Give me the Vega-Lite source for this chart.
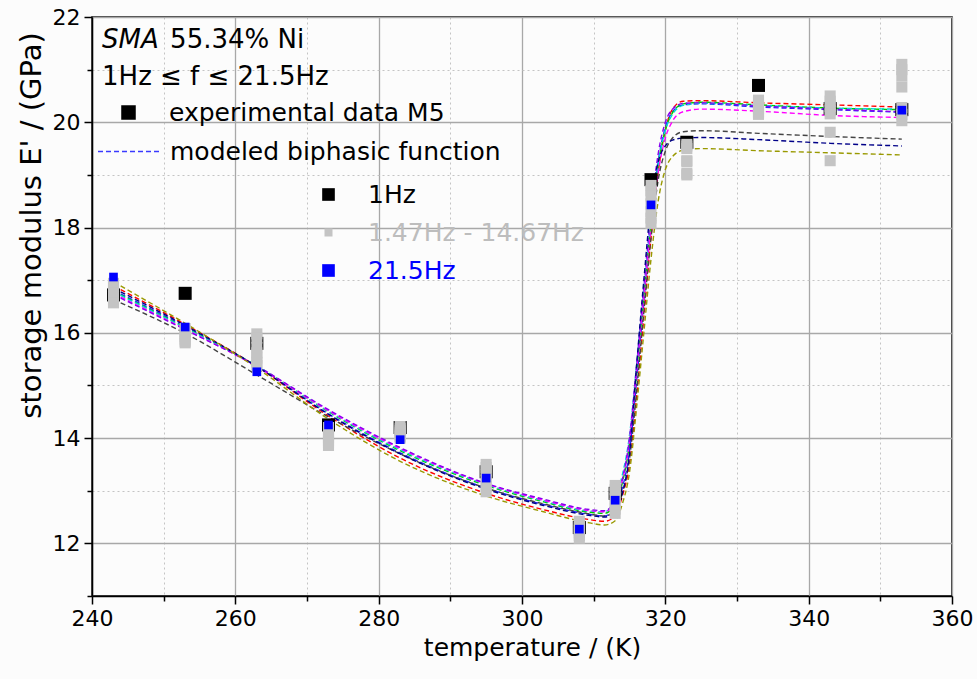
{
 "$schema": "https://vega.github.io/schema/vega-lite/v6.json",
 "width": 860, "height": 579,
 "autosize": {"type": "none"},
 "padding": {"left": 92, "top": 17, "right": 25, "bottom": 83},
 "background": "#fcfcfc",
 "config": {
  "font": "DejaVu Sans",
  "view": {"stroke": "#000", "strokeWidth": 1.5},
  "axis": {"labelFont": "DejaVu Sans", "titleFont": "DejaVu Sans", "labelColor": "#000", "titleColor": "#000", "titleFontWeight": "normal", "domainColor": "#000", "tickColor": "#000", "labelFlush": false, "labelOverlap": false},
  "legend": {"labelFont": "DejaVu Sans", "labelFontSize": 25, "labelLimit": 600, "orient": "none", "padding": 0}
 },
 "datasets": {
  "curves": [
   {"f":"B","T":244,"E":16.74},{"f":"B","T":253,"E":16.12},{"f":"B","T":263,"E":15.36},{"f":"B","T":273,"E":14.46},{"f":"B","T":283,"E":13.72},{"f":"B","T":295,"E":13.05},{"f":"B","T":303,"E":12.74},{"f":"B","T":309,"E":12.56},{"f":"B","T":311.5,"E":12.52},{"f":"B","T":313,"E":12.68},{"f":"B","T":314,"E":13.05},{"f":"B","T":315,"E":13.75},{"f":"B","T":316,"E":15.1},{"f":"B","T":317,"E":16.6},{"f":"B","T":318,"E":18.1},{"f":"B","T":319,"E":19.25},{"f":"B","T":320,"E":19.9},{"f":"B","T":321,"E":20.2},{"f":"B","T":322.5,"E":20.33},{"f":"B","T":325,"E":20.35},{"f":"B","T":333,"E":20.29},{"f":"B","T":343,"E":20.24},{"f":"B","T":353,"E":20.19},
   {"f":"R","T":244,"E":16.82},{"f":"R","T":253,"E":16.16},{"f":"R","T":263,"E":15.36},{"f":"R","T":273,"E":14.42},{"f":"R","T":283,"E":13.62},{"f":"R","T":295,"E":12.95},{"f":"R","T":303,"E":12.64},{"f":"R","T":309,"E":12.46},{"f":"R","T":311.5,"E":12.42},{"f":"R","T":313,"E":12.52},{"f":"R","T":314,"E":12.9},{"f":"R","T":315,"E":13.5},{"f":"R","T":316,"E":14.8},{"f":"R","T":317,"E":16.3},{"f":"R","T":318,"E":17.8},{"f":"R","T":319,"E":19.05},{"f":"R","T":320,"E":19.85},{"f":"R","T":321,"E":20.25},{"f":"R","T":322.5,"E":20.4},{"f":"R","T":325,"E":20.41},{"f":"R","T":333,"E":20.37},{"f":"R","T":343,"E":20.33},{"f":"R","T":353,"E":20.29},
   {"f":"G","T":244,"E":16.72},{"f":"G","T":253,"E":16.1},{"f":"G","T":263,"E":15.37},{"f":"G","T":273,"E":14.5},{"f":"G","T":283,"E":13.76},{"f":"G","T":295,"E":13.1},{"f":"G","T":303,"E":12.79},{"f":"G","T":309,"E":12.6},{"f":"G","T":311.5,"E":12.57},{"f":"G","T":313,"E":12.75},{"f":"G","T":314,"E":13.15},{"f":"G","T":315,"E":13.9},{"f":"G","T":316,"E":15.25},{"f":"G","T":317,"E":16.7},{"f":"G","T":318,"E":18.1},{"f":"G","T":319,"E":19.2},{"f":"G","T":320,"E":19.85},{"f":"G","T":321,"E":20.18},{"f":"G","T":322.5,"E":20.35},{"f":"G","T":325,"E":20.38},{"f":"G","T":333,"E":20.33},{"f":"G","T":343,"E":20.27},{"f":"G","T":353,"E":20.24},
   {"f":"C","T":244,"E":16.71},{"f":"C","T":253,"E":16.09},{"f":"C","T":263,"E":15.37},{"f":"C","T":273,"E":14.51},{"f":"C","T":283,"E":13.78},{"f":"C","T":295,"E":13.12},{"f":"C","T":303,"E":12.81},{"f":"C","T":309,"E":12.62},{"f":"C","T":311.5,"E":12.6},{"f":"C","T":313,"E":12.85},{"f":"C","T":314,"E":13.3},{"f":"C","T":315,"E":14.05},{"f":"C","T":316,"E":15.4},{"f":"C","T":317,"E":16.8},{"f":"C","T":318,"E":18.15},{"f":"C","T":319,"E":19.2},{"f":"C","T":320,"E":19.85},{"f":"C","T":321,"E":20.15},{"f":"C","T":322.5,"E":20.32},{"f":"C","T":325,"E":20.36},{"f":"C","T":333,"E":20.32},{"f":"C","T":343,"E":20.27},{"f":"C","T":353,"E":20.25},
   {"f":"M","T":244,"E":16.68},{"f":"M","T":253,"E":16.07},{"f":"M","T":263,"E":15.36},{"f":"M","T":273,"E":14.52},{"f":"M","T":283,"E":13.8},{"f":"M","T":295,"E":13.13},{"f":"M","T":303,"E":12.82},{"f":"M","T":309,"E":12.63},{"f":"M","T":311.5,"E":12.6},{"f":"M","T":313,"E":12.8},{"f":"M","T":314,"E":13.2},{"f":"M","T":315,"E":13.95},{"f":"M","T":316,"E":15.3},{"f":"M","T":317,"E":16.7},{"f":"M","T":318,"E":18.0},{"f":"M","T":319,"E":19.05},{"f":"M","T":320,"E":19.7},{"f":"M","T":321,"E":20.02},{"f":"M","T":322.5,"E":20.2},{"f":"M","T":325,"E":20.25},{"f":"M","T":333,"E":20.21},{"f":"M","T":343,"E":20.13},{"f":"M","T":353,"E":20.09},
   {"f":"P","T":244,"E":16.66},{"f":"P","T":253,"E":16.06},{"f":"P","T":263,"E":15.37},{"f":"P","T":273,"E":14.54},{"f":"P","T":283,"E":13.82},{"f":"P","T":295,"E":13.14},{"f":"P","T":303,"E":12.84},{"f":"P","T":309,"E":12.65},{"f":"P","T":311.5,"E":12.62},{"f":"P","T":313,"E":12.82},{"f":"P","T":314,"E":13.22},{"f":"P","T":315,"E":14.0},{"f":"P","T":316,"E":15.4},{"f":"P","T":317,"E":16.9},{"f":"P","T":318,"E":18.3},{"f":"P","T":319,"E":19.4},{"f":"P","T":320,"E":20.0},{"f":"P","T":321,"E":20.25},{"f":"P","T":322.5,"E":20.36},{"f":"P","T":325,"E":20.37},{"f":"P","T":333,"E":20.31},{"f":"P","T":343,"E":20.25},{"f":"P","T":353,"E":20.2},
   {"f":"K","T":244,"E":16.57},{"f":"K","T":253,"E":15.99},{"f":"K","T":263,"E":15.2},{"f":"K","T":273,"E":14.4},{"f":"K","T":283,"E":13.7},{"f":"K","T":295,"E":13.05},{"f":"K","T":303,"E":12.75},{"f":"K","T":309,"E":12.57},{"f":"K","T":311.5,"E":12.52},{"f":"K","T":313,"E":12.62},{"f":"K","T":314,"E":12.95},{"f":"K","T":315,"E":13.6},{"f":"K","T":316,"E":14.9},{"f":"K","T":317,"E":16.4},{"f":"K","T":318,"E":17.8},{"f":"K","T":319,"E":18.9},{"f":"K","T":320,"E":19.45},{"f":"K","T":321,"E":19.7},{"f":"K","T":322.5,"E":19.82},{"f":"K","T":325,"E":19.84},{"f":"K","T":333,"E":19.79},{"f":"K","T":343,"E":19.73},{"f":"K","T":353,"E":19.68},
   {"f":"N","T":244,"E":16.78},{"f":"N","T":253,"E":16.14},{"f":"N","T":263,"E":15.36},{"f":"N","T":273,"E":14.45},{"f":"N","T":283,"E":13.7},{"f":"N","T":295,"E":13.03},{"f":"N","T":303,"E":12.72},{"f":"N","T":309,"E":12.54},{"f":"N","T":311.5,"E":12.5},{"f":"N","T":313,"E":12.6},{"f":"N","T":314,"E":12.95},{"f":"N","T":315,"E":13.7},{"f":"N","T":316,"E":15.4},{"f":"N","T":317,"E":17.0},{"f":"N","T":318,"E":18.45},{"f":"N","T":319,"E":19.25},{"f":"N","T":320,"E":19.55},{"f":"N","T":321,"E":19.66},{"f":"N","T":322.5,"E":19.7},{"f":"N","T":325,"E":19.71},{"f":"N","T":333,"E":19.67},{"f":"N","T":343,"E":19.6},{"f":"N","T":353,"E":19.55},
   {"f":"O","T":244,"E":16.89},{"f":"O","T":253,"E":16.18},{"f":"O","T":263,"E":15.33},{"f":"O","T":273,"E":14.36},{"f":"O","T":283,"E":13.56},{"f":"O","T":295,"E":12.9},{"f":"O","T":303,"E":12.6},{"f":"O","T":309,"E":12.4},{"f":"O","T":311.5,"E":12.35},{"f":"O","T":313,"E":12.43},{"f":"O","T":314,"E":12.75},{"f":"O","T":315,"E":13.35},{"f":"O","T":316,"E":14.6},{"f":"O","T":317,"E":16.0},{"f":"O","T":318,"E":17.4},{"f":"O","T":319,"E":18.5},{"f":"O","T":320,"E":19.1},{"f":"O","T":321,"E":19.35},{"f":"O","T":322.5,"E":19.47},{"f":"O","T":325,"E":19.5},{"f":"O","T":333,"E":19.46},{"f":"O","T":343,"E":19.42},{"f":"O","T":353,"E":19.38}
  ],
  "points": [
   {"s":"1Hz","T":243,"E":16.72},{"s":"1Hz","T":253,"E":16.75},{"s":"1Hz","T":263,"E":15.8},{"s":"1Hz","T":273,"E":14.25},{"s":"1Hz","T":283,"E":14.2},{"s":"1Hz","T":295,"E":13.36},{"s":"1Hz","T":308,"E":12.3},{"s":"1Hz","T":313,"E":12.95},{"s":"1Hz","T":318,"E":18.91},{"s":"1Hz","T":323,"E":19.62},{"s":"1Hz","T":333,"E":20.7},{"s":"1Hz","T":343,"E":20.26},{"s":"1Hz","T":353,"E":20.24},
   {"s":"1.47Hz - 14.67Hz","T":243,"E":16.94},{"s":"1.47Hz - 14.67Hz","T":243,"E":16.88},{"s":"1.47Hz - 14.67Hz","T":243,"E":16.82},{"s":"1.47Hz - 14.67Hz","T":243,"E":16.76},{"s":"1.47Hz - 14.67Hz","T":243,"E":16.7},{"s":"1.47Hz - 14.67Hz","T":243,"E":16.63},{"s":"1.47Hz - 14.67Hz","T":243,"E":16.57},
   {"s":"1.47Hz - 14.67Hz","T":253,"E":16.08},{"s":"1.47Hz - 14.67Hz","T":253,"E":16.03},{"s":"1.47Hz - 14.67Hz","T":253,"E":15.98},{"s":"1.47Hz - 14.67Hz","T":253,"E":15.93},{"s":"1.47Hz - 14.67Hz","T":253,"E":15.88},{"s":"1.47Hz - 14.67Hz","T":253,"E":15.84},{"s":"1.47Hz - 14.67Hz","T":253,"E":15.81},
   {"s":"1.47Hz - 14.67Hz","T":263,"E":15.98},{"s":"1.47Hz - 14.67Hz","T":263,"E":15.9},{"s":"1.47Hz - 14.67Hz","T":263,"E":15.72},{"s":"1.47Hz - 14.67Hz","T":263,"E":15.62},{"s":"1.47Hz - 14.67Hz","T":263,"E":15.52},{"s":"1.47Hz - 14.67Hz","T":263,"E":15.44},{"s":"1.47Hz - 14.67Hz","T":263,"E":15.38},
   {"s":"1.47Hz - 14.67Hz","T":273,"E":14.2},{"s":"1.47Hz - 14.67Hz","T":273,"E":14.12},{"s":"1.47Hz - 14.67Hz","T":273,"E":14.06},{"s":"1.47Hz - 14.67Hz","T":273,"E":14.0},{"s":"1.47Hz - 14.67Hz","T":273,"E":13.95},{"s":"1.47Hz - 14.67Hz","T":273,"E":13.9},{"s":"1.47Hz - 14.67Hz","T":273,"E":13.86},
   {"s":"1.47Hz - 14.67Hz","T":283,"E":14.22},{"s":"1.47Hz - 14.67Hz","T":283,"E":14.18},{"s":"1.47Hz - 14.67Hz","T":283,"E":14.14},{"s":"1.47Hz - 14.67Hz","T":283,"E":14.1},{"s":"1.47Hz - 14.67Hz","T":283,"E":14.06},{"s":"1.47Hz - 14.67Hz","T":283,"E":14.03},{"s":"1.47Hz - 14.67Hz","T":283,"E":14.0},
   {"s":"1.47Hz - 14.67Hz","T":295,"E":13.5},{"s":"1.47Hz - 14.67Hz","T":295,"E":13.44},{"s":"1.47Hz - 14.67Hz","T":295,"E":13.38},{"s":"1.47Hz - 14.67Hz","T":295,"E":13.3},{"s":"1.47Hz - 14.67Hz","T":295,"E":13.2},{"s":"1.47Hz - 14.67Hz","T":295,"E":13.08},{"s":"1.47Hz - 14.67Hz","T":295,"E":12.98},
   {"s":"1.47Hz - 14.67Hz","T":308,"E":12.42},{"s":"1.47Hz - 14.67Hz","T":308,"E":12.36},{"s":"1.47Hz - 14.67Hz","T":308,"E":12.3},{"s":"1.47Hz - 14.67Hz","T":308,"E":12.25},{"s":"1.47Hz - 14.67Hz","T":308,"E":12.2},{"s":"1.47Hz - 14.67Hz","T":308,"E":12.15},{"s":"1.47Hz - 14.67Hz","T":308,"E":12.1},
   {"s":"1.47Hz - 14.67Hz","T":313,"E":13.1},{"s":"1.47Hz - 14.67Hz","T":313,"E":13.02},{"s":"1.47Hz - 14.67Hz","T":313,"E":12.95},{"s":"1.47Hz - 14.67Hz","T":313,"E":12.85},{"s":"1.47Hz - 14.67Hz","T":313,"E":12.75},{"s":"1.47Hz - 14.67Hz","T":313,"E":12.65},{"s":"1.47Hz - 14.67Hz","T":313,"E":12.57},
   {"s":"1.47Hz - 14.67Hz","T":318,"E":18.8},{"s":"1.47Hz - 14.67Hz","T":318,"E":18.7},{"s":"1.47Hz - 14.67Hz","T":318,"E":18.6},{"s":"1.47Hz - 14.67Hz","T":318,"E":18.45},{"s":"1.47Hz - 14.67Hz","T":318,"E":18.3},{"s":"1.47Hz - 14.67Hz","T":318,"E":18.18},{"s":"1.47Hz - 14.67Hz","T":318,"E":18.08},
   {"s":"1.47Hz - 14.67Hz","T":323,"E":19.58},{"s":"1.47Hz - 14.67Hz","T":323,"E":19.55},{"s":"1.47Hz - 14.67Hz","T":323,"E":19.5},{"s":"1.47Hz - 14.67Hz","T":323,"E":19.27},{"s":"1.47Hz - 14.67Hz","T":323,"E":19.25},{"s":"1.47Hz - 14.67Hz","T":323,"E":19.03},{"s":"1.47Hz - 14.67Hz","T":323,"E":19.0},
   {"s":"1.47Hz - 14.67Hz","T":333,"E":20.42},{"s":"1.47Hz - 14.67Hz","T":333,"E":20.38},{"s":"1.47Hz - 14.67Hz","T":333,"E":20.33},{"s":"1.47Hz - 14.67Hz","T":333,"E":20.25},{"s":"1.47Hz - 14.67Hz","T":333,"E":20.2},{"s":"1.47Hz - 14.67Hz","T":333,"E":20.17},{"s":"1.47Hz - 14.67Hz","T":333,"E":20.15},
   {"s":"1.47Hz - 14.67Hz","T":343,"E":20.5},{"s":"1.47Hz - 14.67Hz","T":343,"E":20.4},{"s":"1.47Hz - 14.67Hz","T":343,"E":20.3},{"s":"1.47Hz - 14.67Hz","T":343,"E":20.22},{"s":"1.47Hz - 14.67Hz","T":343,"E":20.16},{"s":"1.47Hz - 14.67Hz","T":343,"E":19.81},{"s":"1.47Hz - 14.67Hz","T":343,"E":19.27},
   {"s":"1.47Hz - 14.67Hz","T":353,"E":21.1},{"s":"1.47Hz - 14.67Hz","T":353,"E":21.0},{"s":"1.47Hz - 14.67Hz","T":353,"E":20.88},{"s":"1.47Hz - 14.67Hz","T":353,"E":20.67},{"s":"1.47Hz - 14.67Hz","T":353,"E":20.28},{"s":"1.47Hz - 14.67Hz","T":353,"E":20.15},{"s":"1.47Hz - 14.67Hz","T":353,"E":20.03},
   {"s":"21.5Hz","T":243,"E":17.06},{"s":"21.5Hz","T":253,"E":16.11},{"s":"21.5Hz","T":263,"E":15.26},{"s":"21.5Hz","T":273,"E":14.25},{"s":"21.5Hz","T":283,"E":13.97},{"s":"21.5Hz","T":295,"E":13.24},{"s":"21.5Hz","T":308,"E":12.27},{"s":"21.5Hz","T":313,"E":12.82},{"s":"21.5Hz","T":318,"E":18.43},{"s":"21.5Hz","T":353,"E":20.23}
  ]
 },
 "layer": [
  {
   "data": {"name": "points"},
   "mark": {"type": "point", "opacity": 0},
   "encoding": {
    "x": {"field": "T", "type": "quantitative", "scale": {"domain": [240, 360], "nice": false, "zero": false},
          "axis": {"orient": "bottom", "values": [250, 270, 290, 310, 330, 350], "labels": false, "ticks": true, "tickSize": 5, "tickWidth": 1.5, "domain": false, "grid": true, "gridColor": "#c4c4c4", "gridDash": [2, 3], "gridWidth": 1, "title": null}},
    "y": {"field": "E", "type": "quantitative", "scale": {"domain": [11, 22], "nice": false, "zero": false},
          "axis": {"orient": "left", "values": [11, 13, 15, 17, 19, 21], "labels": false, "ticks": true, "tickSize": 5, "tickWidth": 1.5, "domain": false, "grid": true, "gridColor": "#c4c4c4", "gridDash": [2, 3], "gridWidth": 1, "title": null}}
   }
  },
  {
   "data": {"name": "curves"},
   "mark": {"type": "line", "strokeWidth": 1.4, "interpolate": "monotone"},
   "encoding": {
    "x": {"field": "T", "type": "quantitative",
          "axis": {"orient": "bottom", "values": [240, 260, 280, 300, 320, 340, 360], "tickSize": 8, "tickWidth": 1.5, "domainWidth": 1.5, "grid": true, "gridColor": "#a8a8a8", "gridWidth": 1.3, "labelFontSize": 22, "labelPadding": 4, "title": "temperature / (K)", "titleFontSize": 25, "titlePadding": 6, "titleX": 440}},
    "y": {"field": "E", "type": "quantitative",
          "axis": {"orient": "left", "values": [12, 14, 16, 18, 20, 22], "tickSize": 8, "tickWidth": 1.5, "domainWidth": 1.5, "grid": true, "gridColor": "#a8a8a8", "gridWidth": 1.3, "labelFontSize": 22, "labelPadding": 4, "title": "storage modulus E' / (GPa)", "titleFontSize": 29, "titlePadding": 6, "titleY": 208}},
    "color": {"field": "f", "type": "nominal", "legend": null,
              "scale": {"domain": ["K", "N", "O", "R", "G", "C", "B", "M", "P"], "range": ["#444444", "#000088", "#999900", "#ff0000", "#00cc00", "#00d8d8", "#2222ff", "#ff00ff", "#8800ee"]}},
    "strokeDash": {"datum": "modeled biphasic function", "scale": {"range": [[5, 3]]},
                   "legend": {"title": null, "legendX": 5, "legendY": 102, "symbolType": "stroke", "symbolSize": 3969, "symbolStrokeColor": "#3a3aff", "symbolStrokeWidth": 1.3, "labelOffset": 8, "labelColor": "#000"}}
   }
  },
  {
   "data": {"name": "points"},
   "mark": {"type": "point", "filled": true, "opacity": 1, "strokeWidth": 0},
   "encoding": {
    "x": {"field": "T", "type": "quantitative", "axis": null},
    "y": {"field": "E", "type": "quantitative", "axis": null},
    "color": {"field": "s", "type": "nominal", "sort": null,
              "scale": {"domain": ["1Hz", "1.47Hz - 14.67Hz", "21.5Hz"], "range": ["#000000", "#c4c4c4", "#0000ff"]},
              "legend": {"title": null, "legendX": 224, "legendY": 165, "symbolType": "square", "rowPadding": 12, "labelOffset": 27, "symbolStrokeColor": "transparent", "symbolStrokeWidth": 0,
                         "symbolSize": {"expr": "datum.value === '1.47Hz - 14.67Hz' ? 64 : 160"},
                         "labelColor": {"expr": "datum.value === '21.5Hz' ? '#0000ff' : (datum.value === '1Hz' ? '#000000' : '#bdbdbd')"}}},
    "size": {"field": "s", "type": "nominal", "sort": null, "legend": null,
             "scale": {"domain": ["1Hz", "1.47Hz - 14.67Hz", "21.5Hz"], "range": [170, 75, 170]}},
    "shape": {"datum": "experimental data M5", "scale": {"range": ["square"]},
              "legend": {"title": null, "legendX": 24, "legendY": 83, "symbolSize": 170, "symbolFillColor": "#000000", "symbolStrokeColor": "#000000", "labelOffset": 28, "labelColor": "#000"}}
   }
  },
  {
   "data": {"values": [{"t": "SMA"}]},
   "mark": {"type": "text", "font": "DejaVu Sans", "fontSize": 26, "fontStyle": "italic", "align": "left", "baseline": "middle", "color": "#000"},
   "encoding": {"x": {"datum": 241.4, "type": "quantitative", "axis": null}, "y": {"datum": 21.56, "type": "quantitative", "axis": null}, "text": {"field": "t"}}
  },
  {
   "data": {"values": [{"t": "55.34% Ni"}]},
   "mark": {"type": "text", "font": "DejaVu Sans", "fontSize": 26, "align": "left", "baseline": "middle", "color": "#000"},
   "encoding": {"x": {"datum": 250.9, "type": "quantitative", "axis": null}, "y": {"datum": 21.56, "type": "quantitative", "axis": null}, "text": {"field": "t"}}
  },
  {
   "data": {"values": [{"t": "1Hz ≤ f ≤ 21.5Hz"}]},
   "mark": {"type": "text", "font": "DejaVu Sans", "fontSize": 26, "align": "left", "baseline": "middle", "color": "#000"},
   "encoding": {"x": {"datum": 241.4, "type": "quantitative", "axis": null}, "y": {"datum": 20.855, "type": "quantitative", "axis": null}, "text": {"field": "t"}}
  }
 ],
 "resolve": {"scale": {"color": "independent"}, "axis": {"x": "independent", "y": "independent"}}
}
